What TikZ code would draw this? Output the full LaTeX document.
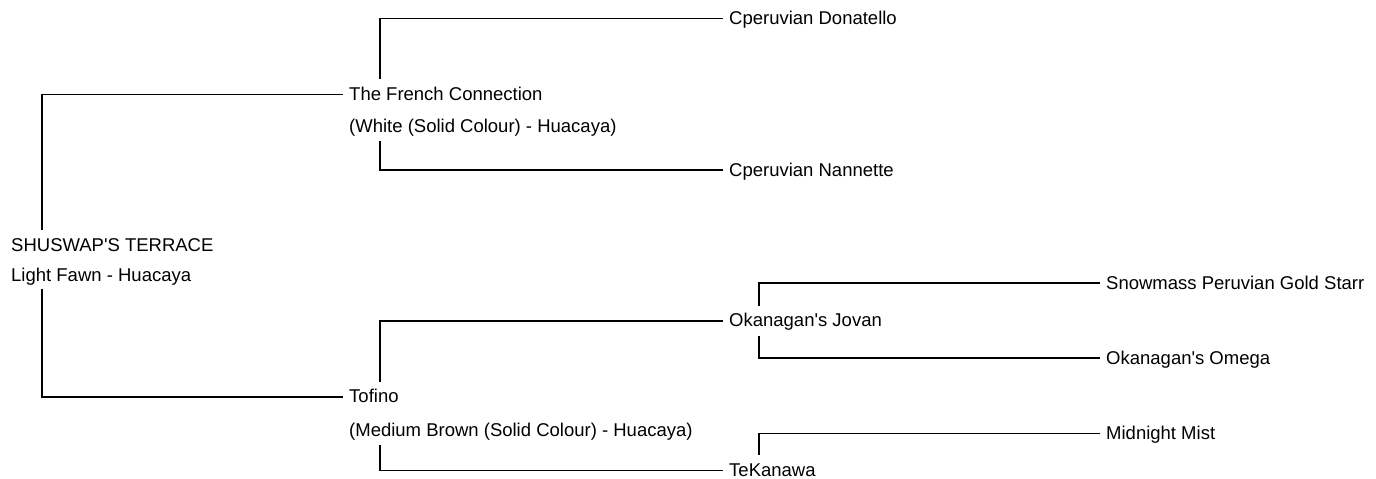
\documentclass[tikz,border=0pt]{standalone}
\usepackage{fontspec}
\setmainfont{Liberation Sans}
\usetikzlibrary{positioning}

\begin{document}
\begin{tikzpicture}[x=1pt, y=-1pt]
    \tikzstyle{animal}=[
        anchor = west,
        inner xsep = 6pt,
        inner ysep = 8pt,
        text height = 13pt,
        text depth = 1pt,
        font = \fontsize{18.5}{22}\selectfont
    ]
    \tikzstyle{fleece}=[
        anchor = base west,
        inner xsep = 6pt,
        inner ysep = 4pt,
        text height = 13pt,
        text depth = 4pt,
        font = \fontsize{18.5}{22}\selectfont
    ]
    \tikzstyle{link}=[line width = 1.6pt]

    \useasboundingbox (0, 0) rectangle (1376, 479);

	\node[animal] (root) at (5, 245)     {SHUSWAP\textquotesingle S TERRACE};
	\node[fleece] (rootd) at ([yshift=-30pt]root.base west) {Light Fawn - Huacaya};
	\node[animal] (fc)   at (343, 94.5)  {The French Connection};
	\node[fleece] (fcd)  at ([yshift=-32pt]fc.base west) {(White (Solid Colour) - Huacaya)};
	\node[animal] (don)  at (723, 18.3)  {Cperuvian Donatello};
	\node[animal] (nan)  at (723, 170)   {Cperuvian Nannette};
	\node[animal] (tof)  at (343, 396.7) {Tofino};
	\node[fleece] (tofd) at ([yshift=-34pt]tof.base west) {(Medium Brown (Solid Colour) - Huacaya)};
	\node[animal] (jov)  at (723, 320.7) {Okanagan\textquotesingle s Jovan};
	\node[animal] (tek)  at (723, 470.5) {TeKanawa};
	\node[animal] (sno)  at (1100, 283)  {Snowmass Peruvian Gold Starr};
	\node[animal] (ome)  at (1100, 358)  {Okanagan\textquotesingle s Omega};
	\node[animal] (mid)  at (1100, 433.5) {Midnight Mist};

	\draw[link] (fc.west)  -| ([xshift=37pt]root.north west);
	\draw[link] (tof.west) -| ([xshift=37pt]rootd.south west);
	\draw[link] (don.west) -| ([xshift=37pt]fc.north west);
	\draw[link] (nan.west) -| ([xshift=37pt]fcd.south west);
	\draw[link] (jov.west) -| ([xshift=37pt]tof.north west);
	\draw[link] (tek.west) -| ([xshift=37pt]tofd.south west);
	\draw[link] (sno.west) -| ([xshift=36pt]jov.north west);
	\draw[link] (ome.west) -| ([xshift=36pt]jov.south west);
	\draw[link] (mid.west) -| ([xshift=36pt]tek.north west);

\end{tikzpicture}
\end{document}
